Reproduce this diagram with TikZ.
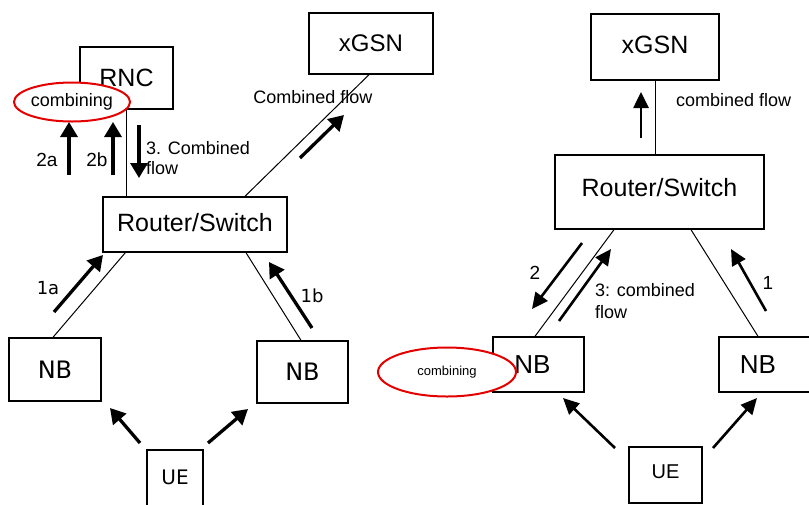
\documentclass[tikz,border=0pt]{standalone}
\usepackage{fontspec}
\setmainfont{Liberation Sans}
\newfontfamily\dvs{DejaVu Sans}
\usetikzlibrary{arrows.meta,calc,shapes.geometric}
\newcommand{\fs}[1]{\fontsize{#1}{#1}\selectfont}
\newcommand{\fsb}[2]{\fontsize{#1}{#2}\selectfont}
\begin{document}
\begin{tikzpicture}[x=1pt,y=-1pt,
  box/.style={draw,line width=1.4pt,inner sep=0pt,align=center},
  conn/.style={line width=1pt},
  thk/.style={line width=3.3pt,-{Triangle[width=17pt,length=15pt]}},
  thn/.style={line width=2.6pt,-{Triangle[width=15pt,length=16pt]}},
  comb/.style={draw=red!90!black,line width=2pt,fill=white,ellipse,inner sep=0pt},
  lbl/.style={inner sep=0pt,font=\fs{18}}
]
\clip (0,0) rectangle (809,504);
\fill[white] (0,0) rectangle (809,504);

% ---------- left diagram ----------
\node[box,minimum width=93pt,minimum height=62pt,font=\fs{25}] (rnc) at (126.5,78) {RNC};
\node[box,minimum width=124pt,minimum height=61pt,font=\fs{24}] (xgL) at (371,43.5) {xGSN};
\node[box,minimum width=184pt,minimum height=55pt,font=\fs{25}] (rtL) at (195,224.5) {\raisebox{4pt}{Router/Switch}};
\node[box,minimum width=92pt,minimum height=63pt,font=\dvs\fs{24}] (nbL1) at (55,369.5) {NB};
\node[box,minimum width=91pt,minimum height=62pt,font=\dvs\fs{24}] (nbL2) at (302.5,372) {NB};
\node[box,minimum width=56pt,minimum height=62pt,font=\dvs\fs{20}] (ueL) at (175,481) {\raisebox{7pt}{UE}};

\draw[conn] (rnc.south) -- (rnc.south |- rtL.north);
\draw[conn] ($(rtL.north)+(50,0)$) -- ($(xgL.south)+(-2,0)$);
\draw[conn] ($(nbL1.north)+(-2,0)$) -- ($(rtL.south west)+(23,0)$);
\draw[conn] ($(nbL2.north)+(-1.5,0)$) -- ($(rtL.south)+(51,0)$);

\node[comb,minimum width=111pt,minimum height=39pt,font=\fs{18}] (combL) at (72,102) {combining};

\draw[thk] (69,175) -- (69,122);
\draw[thk] (113,175) -- (113,122);
\draw[thk] (139,125) -- (139,178);
\node[lbl,font=\fs{19}] (l2a) at (47,160) {2a};
\node[lbl,font=\fs{19}] (l2b) at (97,160) {2b};
\node[lbl,anchor=west,align=left,font=\fsb{18}{20}] (l3) at (146,158) {3. Combined\\flow};

\draw[thk] (300,158) -- (344,115);
\node[lbl] (lcf) at (313,97) {Combined flow};

\draw[thk] (54,312) -- (103,255);
\draw[thk] (312,328) -- (269,262);
\node[lbl,font=\dvs\fs{18}] (l1a) at (48,288) {1a};
\node[lbl,font=\dvs\fs{18}] (l1b) at (312,296) {1b};

\draw[thk] (140,443) -- (110,408);
\draw[thk] (208,443) -- (248,409);

% ---------- right diagram ----------
\node[box,minimum width=128pt,minimum height=66pt,font=\fs{25}] (xgR) at (655,47) {\raisebox{4pt}{xGSN}};
\node[box,minimum width=209pt,minimum height=74pt,font=\fs{25}] (rtR) at (659.5,192) {\raisebox{10pt}{Router/Switch}};
\node[box,minimum width=91pt,minimum height=55pt,font=\fs{26}] (nbR1) at (538.5,364.5) {\hspace*{-12pt}NB};
\node[box,minimum width=93pt,minimum height=55pt,font=\fs{26}] (nbR2) at (765.5,364.5) {\hspace*{-15pt}NB};
\node[box,minimum width=73pt,minimum height=56pt,font=\fs{20}] (ueR) at (665.5,475) {\raisebox{6pt}{UE}};

\draw[conn] (xgR.south) -- (xgR.south |- rtR.north);
\draw[conn] ($(rtR.south)+(-45.5,0)$) -- ($(nbR1.north)+(-3.5,0)$);
\draw[conn] ($(rtR.south)+(31.5,0)$) -- ($(nbR2.north)+(-7.5,0)$);

\node[comb,minimum width=138pt,minimum height=49pt,font=\fs{13}] (combR) at (447,372) {combining};

\draw[thn] (641,138) -- (641,92);
\node[lbl,anchor=west] (rcf) at (676,100) {combined flow};

\draw[thn] (582,243) -- (532,309);
\draw[thn] (559,321) -- (611,249);
\node[lbl,font=\fs{19}] (r2) at (535,273) {2};
\node[lbl,anchor=west,align=left,font=\fsb{18}{22}] (r3) at (595,301) {3: combined\\flow};

\draw[thn] (766,311) -- (731,249);
\node[lbl,font=\fs{19}] (r1) at (768,283) {1};

\draw[thn] (615,448) -- (563,398);
\draw[thn] (713,448) -- (757,398);
\end{tikzpicture}
\end{document}
